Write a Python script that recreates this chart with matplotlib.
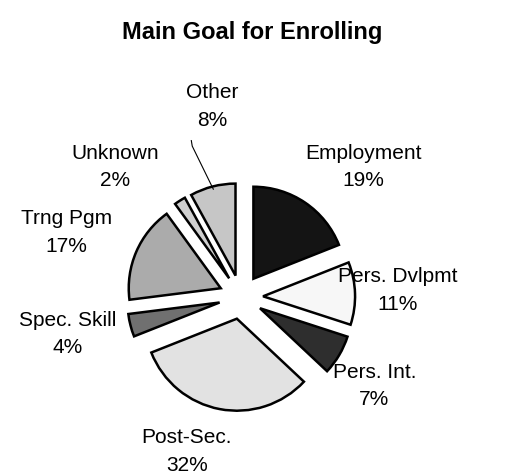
import matplotlib.pyplot as plt
import numpy as np

plt.rcParams['font.family'] = ['Liberation Sans', 'DejaVu Sans']

goals = ['Employment', 'Pers. Dvlpmt', 'Pers. Int.', 'Post-Sec.',
         'Spec. Skill', 'Trng Pgm', 'Unknown', 'Other']
shares = [19, 11, 7, 32, 4, 17, 2, 8]
shades = ['#141414', '#f7f7f7', '#2e2e2e', '#e2e2e2',
          '#707070', '#ababab', '#cfcfcf', '#c6c6c6']

# label centres in data units (pie radius = 1)
label_xy = [(1.33, 1.41), (1.70, 0.07), (1.45, -0.97), (-0.59, -1.68),
            (-1.88, -0.40), (-1.90, 0.70), (-1.37, 1.41), (-0.31, 2.07)]

R = 92.0          # pie radius in pixels
cx, cy = 241, 297  # pie centre in pixels from top-left
W, H = 505, 474

fig = plt.figure(figsize=(W / 100, H / 100), dpi=100)
ax = fig.add_axes([0, 0, 1, 1])

wedges, _ = ax.pie(shares, colors=shades, startangle=90, counterclock=False,
                   explode=[0.24] * len(shares), radius=1.0,
                   wedgeprops=dict(edgecolor='black', linewidth=1.8),
                   frame=True)
ax.set_xlim(-cx / R, (W - cx) / R)
ax.set_ylim(-(H - cy) / R, cy / R)
ax.set_aspect('auto')
ax.axis('off')

for name, pct, (lx, ly) in zip(goals, shares, label_xy):
    ax.text(lx, ly, f'{name}\n{pct}%', ha='center', va='center',
            fontsize=15, linespacing=1.55)

# leader line for the small "Other" slice
w = wedges[-1]
mid = np.deg2rad((w.theta1 + w.theta2) / 2)
tip = (w.center[0] + 0.97 * np.cos(mid), w.center[1] + 0.97 * np.sin(mid))
ax.plot([-0.54, -0.53, tip[0]], [1.70, 1.64, tip[1]], color='black', lw=0.8)

fig.text(0.5, 1 - 33 / H, 'Main Goal for Enrolling', ha='center', va='center',
         fontsize=17, fontweight='bold')

fig.savefig('out.png', dpi=100)
